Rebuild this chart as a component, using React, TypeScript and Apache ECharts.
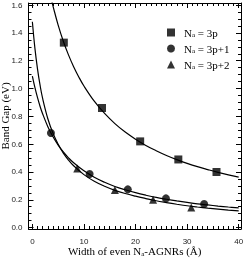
import React, { useEffect, useRef } from "react";
import * as echarts from "echarts";

// ---- data ----
const width3p = [6.1, 13.5, 20.9, 28.3, 35.7];
const gap3p = [1.33, 0.86, 0.62, 0.49, 0.4];
const width3p1 = [3.6, 11.1, 18.5, 25.9, 33.3];
const gap3p1 = [0.68, 0.385, 0.275, 0.21, 0.17];
const width3p2 = [8.7, 16.0, 23.4, 30.8];
const gap3p2 = [0.425, 0.27, 0.2, 0.145];

// fitted curves (as drawn in the reference)
const fitX3p = [3.8, 4, 5, 6, 7, 8, 9, 10, 12, 14, 16, 18, 20, 22, 24, 26, 28, 30, 32, 34, 36, 38, 40];
const fitY3p = [1.623, 1.593, 1.456, 1.34, 1.242, 1.157, 1.083, 1.018, 0.909, 0.821, 0.748, 0.687, 0.636, 0.591, 0.553, 0.519, 0.489, 0.462, 0.438, 0.417, 0.397, 0.379, 0.363];
const fitX3p1 = [0, 0.5, 1, 1.5, 2, 3, 4, 5, 6, 7, 8, 10, 12, 14, 16, 18, 20, 22, 24, 26, 28, 30, 32, 34, 36, 38, 40];
const fitY3p1 = [1.09, 1.006, 0.934, 0.871, 0.817, 0.726, 0.653, 0.593, 0.544, 0.502, 0.466, 0.408, 0.362, 0.326, 0.296, 0.272, 0.251, 0.233, 0.217, 0.204, 0.192, 0.181, 0.171, 0.163, 0.155, 0.148, 0.142];
const fitX3p2 = [0, 0.5, 1, 1.5, 2, 3, 4, 5, 6, 7, 8, 10, 12, 14, 16, 18, 20, 22, 24, 26, 28, 30, 32, 34, 36, 38, 40];
const fitY3p2 = [1.48, 1.287, 1.14, 1.022, 0.927, 0.783, 0.678, 0.599, 0.536, 0.486, 0.445, 0.381, 0.333, 0.297, 0.268, 0.245, 0.226, 0.209, 0.193, 0.18, 0.168, 0.157, 0.148, 0.14, 0.133, 0.126, 0.12];

const seriesNames = ["Na = 3p", "Na = 3p+1", "Na = 3p+2"];

const xMajor = [0, 10, 20, 30, 40];
const yMajor = [0, 0.2, 0.4, 0.6, 0.8, 1.0, 1.2, 1.4, 1.6];
const xMinor = Array.from({ length: 41 }, (_, i) => i);
const yMinor = Array.from({ length: 33 }, (_, i) => Math.round(i * 5) / 100);

const X_MIN = -0.75;
const X_MAX = 40.45;
const Y_MIN = -0.01;
const Y_MAX = 1.615;

const zip = (xs: number[], ys: number[]) => xs.map((x, i) => [x, ys[i]]);

const SERIF = "Liberation Serif";
const SANS = "Liberation Sans";

export default function App() {
  const ref = useRef<HTMLDivElement>(null);
  useEffect(() => {
    if (!ref.current) return;
    const chart = echarts.init(ref.current, null, { renderer: "svg" });

    const baseX = {
      type: "value",
      min: X_MIN,
      max: X_MAX,
      splitLine: { show: false },
      nameMoveOverlap: false,
    };
    const baseY = {
      type: "value",
      min: Y_MIN,
      max: Y_MAX,
      splitLine: { show: false },
      nameMoveOverlap: false,
    };
    const line = { show: true, onZero: false, lineStyle: { color: "#000", width: 1 } };
    const noLine = { show: false, onZero: false };

    const lineSeries = (data: number[][]) => ({
      type: "line",
      data,
      showSymbol: false,
      smooth: 0.4,
      lineStyle: { color: "#000", width: 1.2 },
      itemStyle: { color: "#000" },
      silent: true,
      z: 1,
    });
    const scatter = (name: string, symbol: string, size: number, data: number[][]) => ({
      type: "scatter",
      name,
      symbol,
      symbolSize: size,
      data,
      itemStyle: { color: "#000" },
      z: 3,
    });
    const tick = (len: number, values: number[]) => ({
      show: true,
      inside: true,
      length: len,
      customValues: values,
      lineStyle: { color: "#000", width: 1 },
    });

    chart.setOption({
      animation: false,
      grid: { left: 28.5, right: 4, top: 3, bottom: 29, containLabel: false, outerBoundsMode: "none" },
      legend: {
        orient: "vertical",
        left: 167,
        top: 27,
        padding: 0,
        itemWidth: 8,
        itemHeight: 8,
        itemGap: 4.5,
        data: seriesNames,
        formatter: (name: string) => `{n|N}{s|a}{n|${name.slice(2)}}`,
        textStyle: {
          padding: [0, 0, 0, 4],
          rich: {
            n: { fontFamily: SERIF, fontSize: 11, color: "#000", lineHeight: 12 },
            s: { fontFamily: SERIF, fontSize: 7, color: "#000", lineHeight: 12, verticalAlign: "bottom", padding: [3, 0, 0, 0] },
          },
        },
      },
      xAxis: [
        {
          ...baseX,
          position: "bottom",
          axisLine: line,
          axisTick: tick(5, xMajor),
          axisLabel: { show: true, customValues: xMajor, fontFamily: SANS, fontSize: 8, color: "#222", margin: 8 },
          name: "{t|Width of even N}{s|a}{t|-AGNRs (Å)}",
          nameLocation: "middle",
          nameGap: 16,
          nameTextStyle: {
            rich: {
              t: { fontFamily: SERIF, fontSize: 11, color: "#000", lineHeight: 12 },
              s: { fontFamily: SERIF, fontSize: 7, color: "#000", lineHeight: 12, verticalAlign: "bottom", padding: [3, 0, 0, 0] },
            },
          },
        },
        { ...baseX, position: "bottom", axisLine: noLine, axisTick: tick(3, xMinor), axisLabel: { show: false } },
        { ...baseX, position: "top", axisLine: line, axisTick: tick(5, xMajor), axisLabel: { show: false } },
        { ...baseX, position: "top", axisLine: noLine, axisTick: tick(3, xMinor), axisLabel: { show: false } },
      ],
      yAxis: [
        {
          ...baseY,
          position: "left",
          axisLine: line,
          axisTick: tick(5, yMajor),
          axisLabel: {
            show: true,
            customValues: yMajor,
            fontFamily: SANS,
            fontSize: 8,
            color: "#222",
            margin: 6,
            formatter: (v: number) => v.toFixed(1),
          },
          name: "Band Gap (eV)",
          nameLocation: "middle",
          nameGap: 18,
          nameTextStyle: { fontFamily: SERIF, fontSize: 11, color: "#000" },
        },
        { ...baseY, position: "left", axisLine: noLine, axisTick: tick(3, yMinor), axisLabel: { show: false } },
        { ...baseY, position: "right", axisLine: line, axisTick: tick(5, yMajor), axisLabel: { show: false } },
        { ...baseY, position: "right", axisLine: noLine, axisTick: tick(3, yMinor), axisLabel: { show: false } },
      ],
      series: [
        lineSeries(zip(fitX3p, fitY3p)),
        lineSeries(zip(fitX3p1, fitY3p1)),
        lineSeries(zip(fitX3p2, fitY3p2)),
        scatter(seriesNames[0], "rect", 8, zip(width3p, gap3p)),
        scatter(seriesNames[1], "circle", 8, zip(width3p1, gap3p1)),
        scatter(seriesNames[2], "triangle", 8, zip(width3p2, gap3p2)),
      ],
    });
    return () => chart.dispose();
  }, []);
  return <div ref={ref} style={{ width: 245, height: 258, position: "fixed", left: 0, top: 0 }} />;
}
